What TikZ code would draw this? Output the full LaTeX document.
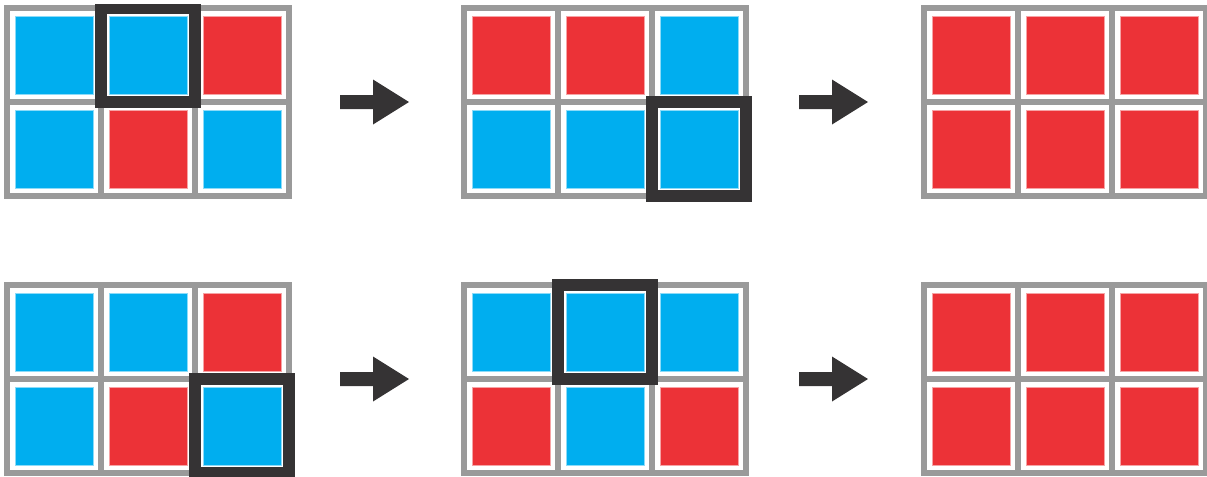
\documentclass[tikz,border=0pt]{standalone}
\definecolor{cblue}{HTML}{00AEEF}
\definecolor{cred}{HTML}{EC3237}
\definecolor{cgray}{HTML}{9A9A9A}
\definecolor{cdark}{HTML}{353334}
\tikzset{
  gridbg/.style={fill=cgray, inner sep=0pt, outer sep=0pt, minimum width=216pt, minimum height=145.5pt},
  cellbox/.style={fill=white, minimum size=66pt, inner sep=0pt, outer sep=0pt},
  colsq/.style={line width=0.75pt, minimum size=58.5pt, inner sep=0pt, outer sep=0pt},
  selframe/.style={draw=cdark, line width=9pt, minimum size=70.875pt, inner sep=0pt, outer sep=0pt},
  bigarrow/.pic={\fill[cdark] (0,-7)--(33,-7)--(33,-22.5)--(69,0)--(33,22.5)--(33,7)--(0,7)--cycle;}
}
\newcommand\mygrid[4]{%
  \node[gridbg] (#1) at (#2+144,#3+97) {};
  \foreach \clr [count=\i from 0] in {#4} {
    \pgfmathtruncatemacro\cc{mod(\i,3)}
    \pgfmathtruncatemacro\rr{div(\i,3)}
    \node[cellbox] (#1-\rr-\cc) at (#2+50+\cc*94,#3+50+\rr*94) {};
    \node[colsq, fill=\clr, draw=\clr!45!white] (#1-\rr-\cc-in) at (#1-\rr-\cc) {};
  }%
}
\begin{document}
\begin{tikzpicture}[x=0.75pt,y=-0.75pt]
\useasboundingbox (0,0) rectangle (1207,476);
\clip (0,0) rectangle (1207,476);
\mygrid{ga}{4}{5}{cblue,cblue,cred,cblue,cred,cblue}
\mygrid{gb}{461}{5}{cred,cred,cblue,cblue,cblue,cblue}
\mygrid{gc}{921}{5}{cred,cred,cred,cred,cred,cred}
\mygrid{gd}{4}{282}{cblue,cblue,cred,cblue,cred,cblue}
\mygrid{ge}{461}{282}{cblue,cblue,cblue,cred,cblue,cred}
\mygrid{gf}{921}{282}{cred,cred,cred,cred,cred,cred}
\begin{scope}
  \clip (0,4) rectangle (1207,476);
  \node[selframe] (fa) at (ga-0-1) {};
\end{scope}
\node[selframe] (fb) at (gb-1-2) {};
\node[selframe] (fd) at (gd-1-2) {};
\node[selframe] (fe) at (ge-0-1) {};
\coordinate (a1) at (340,102);
\coordinate (a2) at (799,102);
\coordinate (a3) at (340,379);
\coordinate (a4) at (799,379);
\pic at (a1) {bigarrow};
\pic at (a2) {bigarrow};
\pic at (a3) {bigarrow};
\pic at (a4) {bigarrow};
\end{tikzpicture}
\end{document}
